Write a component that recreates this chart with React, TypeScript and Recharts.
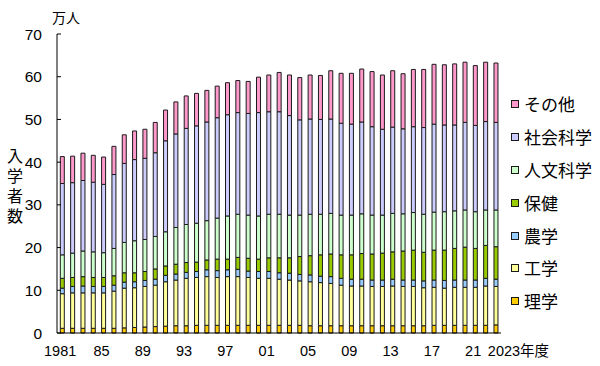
import React from "react";
import { BarChart, Bar, XAxis, YAxis } from "recharts";

const years = [
  "1981","1982","1983","1984","1985","1986","1987","1988","1989","1990",
  "1991","1992","1993","1994","1995","1996","1997","1998","1999","2000",
  "2001","2002","2003","2004","2005","2006","2007","2008","2009","2010",
  "2011","2012","2013","2014","2015","2016","2017","2018","2019","2020",
  "2021","2022","2023",
];

const xTickLabels: Record<string, string> = {
  "1981": "1981", "1985": "85", "1989": "89", "1993": "93", "1997": "97",
  "2001": "01", "2005": "05", "2009": "09", "2013": "13", "2017": "17",
  "2021": "21", "2023": "2023年度",
};

const yTicks = [0, 10, 20, 30, 40, 50, 60, 70];

// 理学
const rigaku = [1.1,1.1,1.1,1.1,1.1,1.1,1.2,1.3,1.4,1.5,1.6,1.7,1.7,1.8,1.8,1.8,1.8,1.8,1.8,1.8,1.8,1.8,1.8,1.8,1.7,1.7,1.7,1.7,1.7,1.7,1.7,1.7,1.7,1.7,1.7,1.7,1.8,1.8,1.8,1.8,1.8,1.8,1.9];
// 工学
const kogaku = [8.1,8.3,8.3,8.3,8.3,8.7,9.3,9.3,9.5,9.7,10.4,10.7,11.1,11.2,11.4,11.2,11.4,11.4,11.2,11.0,11.0,10.8,10.6,10.4,10.3,10.1,9.9,9.5,9.3,9.3,9.2,9.2,9.3,9.2,9.2,8.9,8.9,8.7,8.9,8.9,8.9,9.2,9.0];
// 農学
const nogaku = [1.3,1.5,1.6,1.5,1.5,1.4,1.4,1.4,1.4,1.4,1.5,1.4,1.4,1.4,1.6,1.6,1.6,1.7,1.5,1.6,1.6,1.5,1.6,1.5,1.6,1.5,1.6,1.6,1.6,1.6,1.5,1.5,1.6,1.5,1.5,1.6,1.7,1.8,1.7,1.7,1.7,1.8,1.7];
// 保健
const hoken = [2.3,2.1,2.2,2.1,2.1,2.2,2.2,2.1,2.1,2.4,2.2,2.3,2.3,2.2,2.3,2.7,2.5,2.8,3.0,2.9,3.2,3.5,3.6,4.2,4.5,5.0,5.3,5.5,5.7,6.0,6.1,6.3,6.4,6.8,7.0,6.7,7.0,7.1,7.4,7.7,7.4,7.7,7.6];
// 人文科学
const jinbun = [5.5,5.7,6.0,6.0,5.8,6.4,7.1,7.5,7.5,7.6,8.0,8.6,8.9,9.1,9.2,9.6,10.1,10.1,10.1,10.1,10.2,10.2,10.0,9.7,9.7,9.5,9.5,9.3,9.3,9.3,9.1,8.9,9.0,8.7,8.8,8.9,8.9,9.0,8.8,8.7,8.6,8.3,8.6];
// 社会科学
const shakai = [16.7,16.5,16.5,16.3,16.0,17.3,18.5,19.0,19.0,19.6,21.3,21.9,22.5,22.8,23.1,23.5,23.7,23.8,23.8,24.2,24.0,24.0,23.3,22.3,22.3,22.2,22.1,21.5,21.3,21.5,20.7,20.1,20.2,19.9,20.1,20.3,20.6,20.3,20.1,20.5,20.2,20.7,20.5];
// その他
const sonota = [6.3,6.2,6.4,6.3,6.4,6.6,6.7,6.7,6.8,7.1,7.2,7.5,7.6,7.6,7.4,7.4,7.5,7.5,7.5,8.3,8.6,9.2,9.5,9.9,10.3,10.3,11.3,11.7,11.9,12.4,12.9,12.7,13.2,12.9,13.4,13.6,14.0,14.1,14.3,14.1,14.0,13.9,13.9];

const series = [
  { key: "rigaku", name: "理学", color: "#FFCC00", values: rigaku },
  { key: "kogaku", name: "工学", color: "#FFFF99", values: kogaku },
  { key: "nogaku", name: "農学", color: "#99CCFF", values: nogaku },
  { key: "hoken", name: "保健", color: "#99CC00", values: hoken },
  { key: "jinbun", name: "人文科学", color: "#CCFFCC", values: jinbun },
  { key: "shakai", name: "社会科学", color: "#CCCCFF", values: shakai },
  { key: "sonota", name: "その他", color: "#FF99CC", values: sonota },
];

const data = years.map((y, i) => {
  const row: Record<string, any> = { year: y };
  series.forEach((s) => (row[s.key] = s.values[i]));
  return row;
});

const NUM_FONT = '"Liberation Sans", Arial, sans-serif';
const JP_FONT = '"Noto Sans CJK JP", sans-serif';

const XTick = (props: any) => {
  const { x, y, payload } = props;
  const label = xTickLabels[payload.value];
  if (!label) return null;
  const isLast = payload.value === "2023";
  return (
    <text
      x={isLast ? x - 8 : x - 2}
      y={y + 15}
      textAnchor={isLast ? "start" : "middle"}
      fontSize={14.5}
      fontFamily={isLast ? `"Liberation Sans", "Noto Sans CJK JP", sans-serif` : NUM_FONT}
      fill="#000"
    >
      {label}
    </text>
  );
};

const YTick = (props: any) => {
  const { y, payload } = props;
  return (
    <g>
      <line x1={57} x2={61} y1={y} y2={y} stroke="#000" strokeWidth={1} />
      <text x={42} y={y + 5.5} textAnchor="end" fontSize={15.5} fontFamily={NUM_FONT} fill="#000">
        {payload.value}
      </text>
    </g>
  );
};

const legendItems = [...series].reverse();

export default function App() {
  return (
    <div style={{ position: "absolute", left: 0, top: 0, width: 600, height: 366, background: "#fff" }}>
      <BarChart
        width={600}
        height={366}
        data={data}
        margin={{ top: 34, right: 99, bottom: 0, left: 0 }}
        barCategoryGap="32%"
      >
        <XAxis
          dataKey="year"
          interval={0}
          tick={<XTick />}
          tickLine={false}
          axisLine={{ stroke: "#000", strokeWidth: 1 }}
          height={33}
        />
        <YAxis
          domain={[0, 70]}
          ticks={yTicks}
          tick={<YTick />}
          tickLine={false}
          axisLine={{ stroke: "#000", strokeWidth: 1 }}
          width={57}
          interval={0}
        />
        {series.map((s) => (
          <Bar
            key={s.key}
            dataKey={s.key}
            name={s.name}
            stackId="a"
            fill={s.color}
            stroke="#1a1a1a"
            strokeWidth={1}
            isAnimationActive={false}
          />
        ))}
      </BarChart>
      <div style={{ position: "absolute", left: 52, top: 7, fontSize: 14, fontFamily: JP_FONT, color: "#000" }}>
        万人
      </div>
      <div
        style={{
          position: "absolute",
          left: 5,
          top: 148,
          fontSize: 16,
          lineHeight: "20px",
          letterSpacing: "4px",
          writingMode: "vertical-rl",
          fontFamily: JP_FONT,
          color: "#000",
        }}
      >
        入学者数
      </div>
      <div style={{ position: "absolute", left: 511, top: 88 }}>
        {legendItems.map((s) => (
          <div key={s.key} style={{ display: "flex", alignItems: "center", height: 32.8 }}>
            <div
              style={{
                width: 6,
                height: 6,
                background: s.color,
                border: "1px solid #1a1a1a",
                marginRight: 5,
              }}
            />
            <span style={{ fontSize: 17, fontFamily: JP_FONT, color: "#000", lineHeight: "20px" }}>{s.name}</span>
          </div>
        ))}
      </div>
    </div>
  );
}
